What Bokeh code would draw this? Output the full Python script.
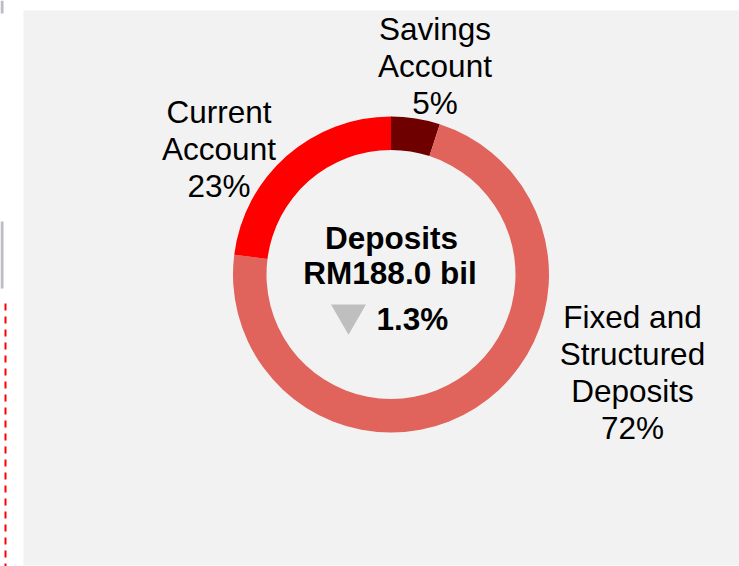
import math
from bokeh.plotting import figure
from bokeh.models import Range1d, ColumnDataSource
from bokeh.core.properties import value
from bokeh.embed import file_html
from bokeh.resources import INLINE

# ---- data ----
categories = ["Savings\nAccount", "Fixed and\nStructured\nDeposits", "Current\nAccount"]
shares = [5, 72, 23]
colors = ["#6f0000", "#e0645c", "#ff0000"]
center_title = "Deposits"
center_value = "RM188.0 bil"
center_change = "1.3%"

# ---- layout (page pixel coords) ----
W, H = 739, 566
def px(x):
    return x
def py(y):
    return H - y

CX, CY = 390.5, 274
R_IN, R_OUT = 124.5, 158
label_anchor = [(434.5, 28), (632, 316), (218.5, 111)]
LINE_STEP = 37
FONT = value("Liberation Sans")
FS = "31.5px"

p = figure(width=W, height=H, x_range=Range1d(0, W), y_range=Range1d(0, H),
           output_backend="svg", toolbar_location=None, min_border=0)
p.axis.visible = False
p.grid.visible = False
p.outline_line_color = None
p.background_fill_color = "white"
p.border_fill_color = "white"

# panel
p.quad(left=px(23), right=px(739), bottom=py(565), top=py(10),
       fill_color="#f2f2f2", line_color=None)

# left-edge decorations
p.quad(left=[px(0), px(0)], right=[px(3), px(3)], bottom=[py(13), py(288)],
       top=[py(0), py(221)], fill_color="#bcbcc4", line_color=None)
p.segment(x0=[px(5)], y0=[py(303)], x1=[px(5)], y1=[py(566)],
          line_color="#ff0000", line_width=2, line_dash="7 6")

# donut
total = sum(shares)
starts, ends = [], []
a = math.pi / 2
for s in shares:
    starts.append(a)
    a -= 2 * math.pi * s / total
    ends.append(a)
src = ColumnDataSource(dict(start=starts, end=ends, color=colors))
p.annular_wedge(x=px(CX), y=py(CY), inner_radius=R_IN, outer_radius=R_OUT,
                start_angle="start", end_angle="end", direction="clock",
                fill_color="color", line_color=None, source=src)

# labels
lx, ly, lt = [], [], []
for cat, share, (ax, ay) in zip(categories, shares, label_anchor):
    lines = cat.split("\n") + [f"{share}%"]
    for i, t in enumerate(lines):
        lx.append(px(ax))
        ly.append(py(ay + i * LINE_STEP))
        lt.append(t)
p.text(x=lx, y=ly, text=lt, text_align="center", text_baseline="alphabetic",
       text_font=FONT, text_font_size=FS, text_color="black")

# center text
p.text(x=[px(391), px(389.5)], y=[py(237), py(272)], text=[center_title, center_value],
       text_align="center", text_baseline="alphabetic", text_font=FONT,
       text_font_size=FS, text_font_style="bold", text_color="black")
p.text(x=[px(376)], y=[py(318)], text=[center_change], text_align="left",
       text_baseline="alphabetic", text_font=FONT, text_font_size=FS,
       text_font_style="bold", text_color="black")
p.scatter(x=[px(348)], y=[py(314)], marker="inverted_triangle", size=35,
          fill_color="#bfbfbf", line_color=None)

open("out.html", "w").write(file_html(p, INLINE))
